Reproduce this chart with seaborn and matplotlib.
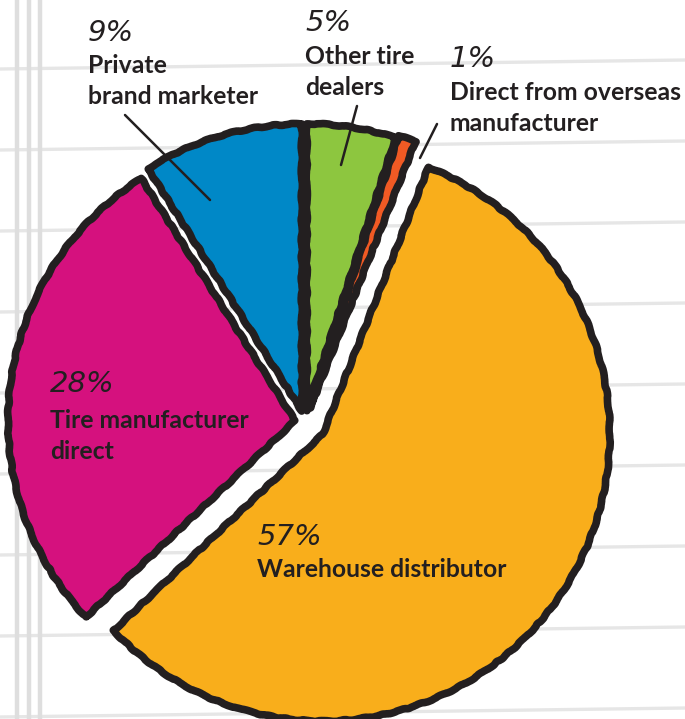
import matplotlib
matplotlib.use("Agg")
import matplotlib.pyplot as plt
import seaborn as sns
import numpy as np
from matplotlib import font_manager

# Tire purchase channels (share of units, %)
categories = [
    "Other tire\ndealers",
    "Direct from overseas\nmanufacturer",
    "Warehouse distributor",
    "Tire manufacturer\ndirect",
    "Private\nbrand marketer",
]
shares = [5, 1, 57, 28, 9]
slice_colors = ["#8dc63f", "#f15a24", "#f9ae1b", "#d5117e", "#0088c7"]

# Layout (pixel units, y measured from the top of the canvas)
W, H = 685, 719
pie_center = (305, 422)
pie_radius = 287
explode_frac = [0.04, 0.05, 0.075, 0.035, 0.04]
# label anchor: (x, baseline of the percent line, baseline of first name line)
label_anchor = [
    (305, 31, 64),
    (450, 67, 100),
    (257, 545, 577),
    (50, 392, 428),
    (88, 41, 73),
]
# leader lines for the labels that sit outside the pie
leaders = {
    0: ((357, 106), (341, 165)),
    1: ((437, 124), (420, 158)),
    4: ((125, 115), (210, 200)),
}

INK = "#231f20"

sns.set_theme(style="white")
available = {f.name for f in font_manager.fontManager.ttflist}
name_font = next((f for f in ["Liberation Sans Narrow", "Lato", "Roboto"] if f in available), "DejaVu Sans")
pct_font = "DejaVu Sans"
plt.rcParams["font.family"] = [name_font, "DejaVu Sans"]


def py(y):
    return H - y


fig = plt.figure(figsize=(W / 100, H / 100), dpi=100)
fig.patch.set_facecolor("white")
ax = fig.add_axes([0, 0, 1, 1])

# notebook-paper background
for k in range(9):
    base = 64 + 81 * k
    ax.plot([0, W], [py(base + 5), py(base - 4)], color="#e6e6e6", lw=2.4,
            solid_capstyle="butt", zorder=0)
for x in (17, 29, 40):
    ax.plot([x, x], [0, H], color="#dedede", lw=3.2, zorder=0)

wedges, _ = ax.pie(
    shares,
    colors=slice_colors,
    startangle=90,
    counterclock=False,
    explode=[e * pie_radius for e in explode_frac],
    center=(pie_center[0], py(pie_center[1])),
    radius=pie_radius,
    wedgeprops=dict(edgecolor=INK, linewidth=5.5, joinstyle="round"),
)
for w in wedges:
    w.set_zorder(3)
    w.set_sketch_params(0.6, 30, 4)

for i, (share, name) in enumerate(zip(shares, categories)):
    x, yb_pct, yb_name = label_anchor[i]
    ax.text(x, py(yb_pct), f"{share}%", fontsize=21, fontstyle="oblique",
            family=pct_font, color=INK, va="baseline", ha="left", zorder=5)
    for j, line in enumerate(name.split("\n")):
        ax.text(x, py(yb_name + 31 * j), line, fontsize=17.8, fontweight="bold",
                color=INK, va="baseline", ha="left", zorder=5)

for i, ((x0, y0), (x1, y1)) in leaders.items():
    ax.plot([x0, x1], [py(y0), py(y1)], color=INK, lw=1.8, zorder=6)

ax.set_xlim(0, W)
ax.set_ylim(0, H)
ax.set_aspect("auto")
ax.axis("off")

fig.savefig("out.png", dpi=100, facecolor="white")
